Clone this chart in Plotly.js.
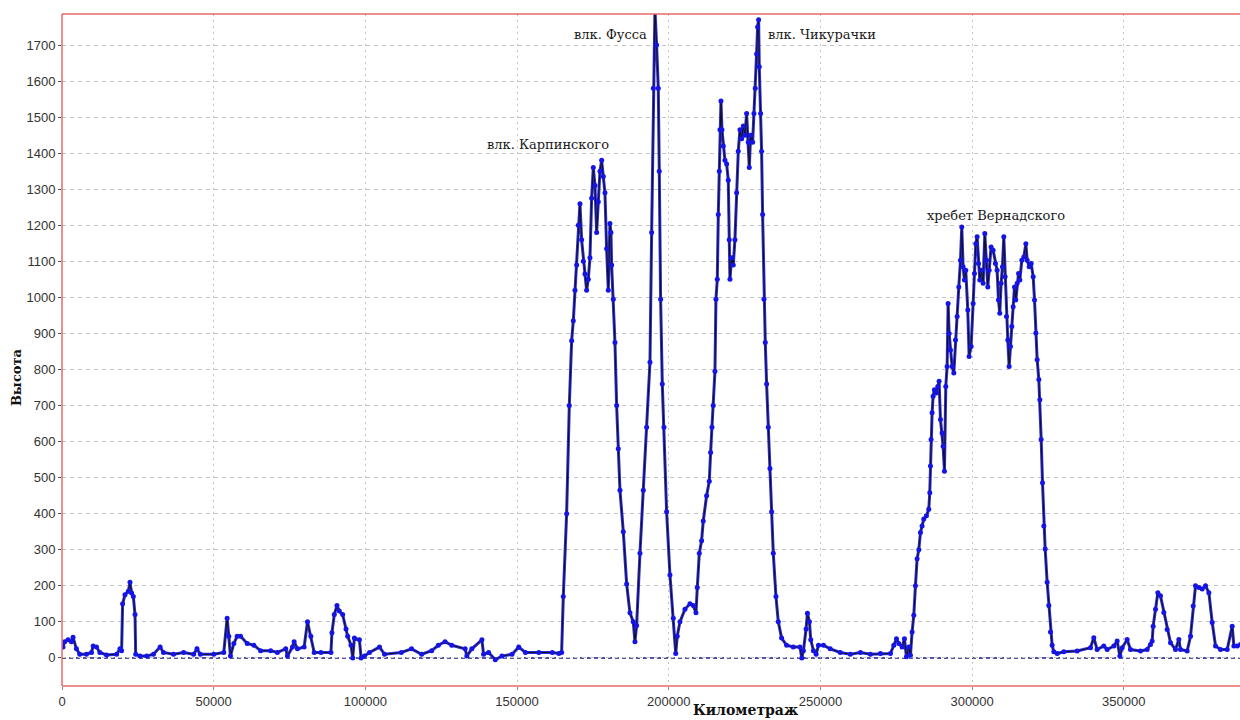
<!DOCTYPE html>
<html>
<head>
<meta charset="utf-8">
<script src="https://cdn.plot.ly/plotly-3.0.1.min.js"></script>
<style>
html,body{margin:0;padding:0;background:#fff;}
#chart{width:1240px;height:720px;}
</style>
</head>
<body>
<div id="chart"></div>
<script>
// Distance along profile (Километраж)
const distance = [
  0, 330, 880, 1990, 3090, 3640, 4750, 5850, 8060, 9720, 10270, 11370, 12480, 14680, 18000, 19100, 19650,
  19980, 20760, 21860, 22410, 22960, 23520, 24070, 24290, 25720, 27930, 30140, 32350, 33450, 36760, 40080,
  43390, 44490, 45600, 50010, 53320, 54430, 54980, 55530, 56640, 57740, 58840, 61050, 63260, 65470, 68780,
  70990, 73750, 74300, 75960, 76510, 77610, 79820, 80920, 82030, 83130, 85340, 88650, 88980, 89760, 90640,
  91410, 92520, 93620, 94170, 95280, 95830, 96380, 98040, 98590, 99690, 101350, 104660, 106320, 111840,
  115220, 118540, 121850, 124050, 126260, 128470, 132890, 133440, 135100, 138410, 138960, 140620, 142830,
  145030, 148340, 150550, 152760, 157180, 161590, 163800,
  164690, 165240, 166340, 167220, 167990, 168540, 169090, 169640, 170180, 170730, 171280, 171830, 172380,
  172930, 173480, 174030, 174580, 175130, 175680, 176230, 176780, 177330, 177880, 178430, 178970, 179520,
  180070, 180620, 180950, 181170, 181720, 182270, 182820, 183370, 183920, 185020, 186120, 187210, 188310,
  188860, 189410, 190510, 191610, 192710, 193810, 194360, 194910, 195450, 196000, 196550, 196880, 197320,
  197870, 198420, 199300, 200400, 201500, 202300,
  202800, 203690, 205340, 206990, 208090, 208970, 209410, 210070, 210830, 211380, 212480, 213360, 213800,
  214240, 214680, 215230, 215560, 216000, 216330, 216660, 216880, 217210, 217540, 217980, 218530, 219080,
  219620, 219950, 220170, 220720, 221270, 221820, 222370, 222920, 223470, 224020, 224570, 225120, 225670,
  226220, 226550, 226990, 227650, 228080, 228520, 228960, 229290, 229620, 229840, 230280, 230610, 230940,
  231380, 231820, 232260, 232810, 233360, 233910, 234460, 235340, 236110, 237200, 238850, 241050, 243250,
  243840, 244390, 245270, 245710, 246370, 246810, 247700, 248580, 249350, 251010, 253220, 256530, 259850,
  263180, 266480, 269780, 273080,
  274180, 275060, 275820, 276920, 277690, 278350, 279120, 279670, 280220, 280770, 281320, 281870, 282420,
  282970, 283510, 284060, 284940, 285710, 286040, 286260, 286480, 286810, 287140, 287580, 288130, 288680,
  289120, 289560, 290110, 290440, 290880, 291320, 291760, 292090, 292420, 292860, 293410, 293960, 294510,
  295060, 295610, 296160, 296590, 297030, 297470, 297910, 298570, 299010, 299670, 300330, 300770, 301210,
  301650, 302090, 302530, 303080, 303630, 304180, 304730, 305170, 305610, 306260, 306920, 307690, 308240,
  308680, 309120, 309560, 310000, 310440, 310880, 311320, 311760, 312200, 312640, 313080, 313520, 313970,
  314410, 314850, 315290, 315730, 316380, 317040, 317710, 318150, 318810, 319470, 320130, 320570, 321010,
  321440, 321990, 322320, 322760, 323200, 323640, 324080, 324730, 325280, 325830, 326380, 326930, 328030,
  330230,
  334620, 339010, 340110, 341210, 343410, 344510, 346710, 347810, 348690, 349460, 351100, 352200, 355500,
  357700, 358800, 359350, 359680, 360450, 361220, 362090, 363190, 364290, 365390, 367040, 368140, 368690,
  370890, 371990, 372870, 373640, 374740, 375840, 376940, 378040, 379140, 380230, 381880, 384080, 385730,
  386280, 387380, 388480
];
// Height (Высота)
const height = [
  30, 30, 45, 50, 45, 57, 25, 10, 10, 15, 33, 30, 15, 8, 10, 25, 20,
  150, 175, 185, 210, 180, 170, 120, 10, 5, 5, 10, 30, 15, 10, 15,
  10, 25, 10, 10, 15, 110, 60, 5, 40, 60, 60, 40, 35, 20, 20,
  15, 25, 5, 30, 45, 25, 30, 100, 60, 15, 15, 15, 70, 120, 145,
  130, 120, 80, 60, 35, 0, 55, 50, 0, 5, 15, 30, 10, 15,
  25, 10, 20, 35, 45, 35, 25, 5, 25, 50, 10, 15, -5,
  5, 10, 30, 15, 15, 15, 12,
  15, 170, 400, 700, 880, 935, 1020, 1090, 1200, 1260, 1160, 1100, 1065,
  1020, 1050, 1110, 1275, 1360, 1310, 1180, 1265, 1350, 1380, 1335, 1290, 1135,
  1020, 1205, 1180, 1090, 995, 875, 700, 580, 465, 350, 205, 125, 100,
  45, 90, 290, 465, 640, 820, 1180, 1580, 1800, 1700, 1580, 1350, 995,
  760, 640, 405, 230, 110, 12,
  60, 100, 135, 150, 145, 125, 195, 290, 325, 380, 450, 490, 570,
  640, 700, 795, 995, 1050, 1230, 1350, 1465, 1545, 1465, 1420, 1380, 1370,
  1325, 1160, 1050, 1110, 1090, 1160, 1290, 1405, 1465, 1440, 1475, 1450, 1510,
  1430, 1360, 1450, 1430, 1510, 1580, 1675, 1750, 1770, 1640, 1510, 1405, 1230,
  995, 875, 760, 640, 525, 405, 290, 170, 100, 55, 35, 30, 30,
  0, 20, 80, 124, 100, 50, 20, 10, 35, 35, 25, 15, 10,
  15, 10, 12, 12,
  35, 53, 40, 30, 53, 3, 30, 7, 72, 118, 200, 275, 300,
  348, 366, 385, 394, 412, 458, 532, 606, 680, 726, 744, 735, 753,
  767, 661, 624, 587, 518, 753, 808, 983, 900, 854, 808, 790, 882,
  947, 1029, 1103, 1195, 1085, 1048, 1075, 965, 836, 864, 983, 1066, 1149,
  1168, 1094, 1048, 1075, 1039, 1177, 1103, 1029, 1075, 1140, 1131, 1094, 1075,
  993, 956, 1039, 1085, 1168, 1057, 947, 882, 808, 864, 919, 974, 1029,
  993, 1039, 1066, 1048, 1103, 1112, 1149, 1103, 1085, 1094, 1057, 993, 901,
  827, 772, 716, 606, 486, 366, 302, 210, 145, 72, 35, 17, 12,
  17,
  19, 28, 56, 23, 33, 23, 33, 47, 5, 28, 51, 23, 19,
  23, 37, 47, 88, 135, 181, 172, 126, 79, 42, 23, 51, 23,
  19, 60, 144, 200, 195, 191, 200, 181, 98, 33, 23, 23, 88,
  33, 33, 37
];

const xTickValues = [0, 50000, 100000, 150000, 200000, 250000, 300000, 350000];
const yTickValues = [0, 100, 200, 300, 400, 500, 600, 700, 800, 900, 1000, 1100, 1200, 1300, 1400, 1500, 1600, 1700];

const labelText = ["влк. Карпинского", "влк. Фусса", "влк. Чикурачки", "хребет Вернадского"];
const labelX = [160200, 193500, 232000, 307900];
const labelY = [1425, 1730, 1730, 1228];
const labelAnchor = ["center", "right", "left", "center"];

const xTitle = "Километраж";
const yTitle = "Высота";

const annotations = labelText.map((t, i) => ({
  text: t, x: labelX[i], y: labelY[i], xref: 'x', yref: 'y',
  xanchor: labelAnchor[i], yanchor: 'middle', showarrow: false,
  font: {family: 'DejaVu Serif', size: 13, color: '#1a1a1a'}
}));
// axis titles placed as annotations for exact placement
annotations.push({
  text: '<b>' + xTitle + '</b>', xref: 'paper', yref: 'paper', x: 0.58, y: -0.036,
  xanchor: 'center', yanchor: 'middle', showarrow: false,
  font: {family: 'DejaVu Serif', size: 14, color: '#111'}
});
annotations.push({
  text: '<b>' + yTitle + '</b>', xref: 'paper', yref: 'paper', x: -0.038, y: 0.46,
  xanchor: 'center', yanchor: 'middle', showarrow: false, textangle: -90,
  font: {family: 'DejaVu Serif', size: 13, color: '#111'}
});

const band = {
  x: distance, y: height, type: 'scatter', mode: 'lines',
  line: {color: '#2a2ae0', width: 3}, hoverinfo: 'none'
};
const trace = {
  x: distance, y: height, type: 'scatter', mode: 'lines+markers',
  line: {color: '#111', width: 1},
  marker: {color: '#1414e6', size: 5, line: {width: 0}},
  hoverinfo: 'none'
};

const frame = '#e46a6a';
const layout = {
  width: 1240, height: 720,
  margin: {l: 62, r: 0, t: 14, b: 34},
  paper_bgcolor: '#fff', plot_bgcolor: '#fff',
  showlegend: false,
  xaxis: {
    range: [0, 388300], tickvals: xTickValues, ticktext: xTickValues.map(String),
    showgrid: true, gridcolor: '#c4c4c4', griddash: '2px,4px', gridwidth: 1,
    zeroline: false, showline: false,
    ticks: 'outside', ticklen: 3, tickcolor: '#888',
    tickfont: {family: 'Liberation Sans', size: 13, color: '#333'}
  },
  yaxis: {
    range: [-78, 1786], tickvals: yTickValues, ticktext: yTickValues.map(String),
    showgrid: true, gridcolor: '#c4c4c4', griddash: '4px,4px', gridwidth: 1,
    zeroline: false, showline: false,
    ticks: 'outside', ticklen: 3, tickcolor: '#555',
    tickfont: {family: 'Liberation Sans', size: 13, color: '#333'}
  },
  shapes: [
    {type: 'line', xref: 'paper', x0: 0, x1: 1, yref: 'y', y0: 0, y1: 0,
     line: {color: '#1c1c8a', width: 1.5, dash: '4px,3px'}, layer: 'below'},
    {type: 'line', xref: 'paper', yref: 'paper', x0: 0, x1: 1, y0: 1, y1: 1,
     line: {color: frame, width: 1.5}},
    {type: 'line', xref: 'paper', yref: 'paper', x0: 0, x1: 1, y0: 0, y1: 0,
     line: {color: frame, width: 1.5}},
    {type: 'line', xref: 'paper', yref: 'paper', x0: 0, x1: 0, y0: 0, y1: 1,
     line: {color: frame, width: 1.5}}
  ],
  annotations: annotations
};

Plotly.newPlot('chart', [band, trace], layout, {displayModeBar: false, staticPlot: true});
</script>
</body>
</html>
